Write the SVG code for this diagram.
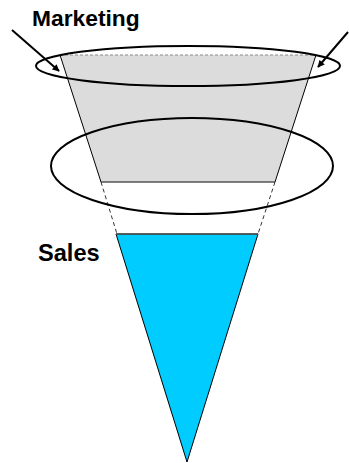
<svg xmlns="http://www.w3.org/2000/svg" width="349" height="463" viewBox="0 0 349 463">
<defs>
<marker id="ah" viewBox="0 0 10 10" refX="9" refY="5" markerWidth="9" markerHeight="7" markerUnits="userSpaceOnUse" orient="auto">
<path d="M0,0 L10,5 L0,10 z" fill="#000"/>
</marker>
<style>
.lbl{font-family:"Liberation Sans",Arial,sans-serif;font-weight:bold;fill:#000}
.ring{fill:none;stroke:#000;stroke-width:2}
.dash{stroke:#000;stroke-width:0.8;stroke-dasharray:4,3;fill:none}
.arrow{stroke:#000;stroke-width:2;fill:none}
</style>
</defs>
<rect width="349" height="463" fill="#fff"/>
<g id="marketing-funnel">
<polygon points="60,55 316,55 275,182 101,182" fill="#dcdcdc"/>
<line x1="60" y1="55" x2="101" y2="182" stroke="#000" stroke-width="1"/>
<line x1="316" y1="55" x2="275" y2="182" stroke="#000" stroke-width="1"/>
<line x1="60" y1="55" x2="316" y2="55" stroke="#888" stroke-width="1" stroke-dasharray="3,2"/>
<line x1="101" y1="182" x2="275" y2="182" stroke="#555" stroke-width="1.5"/>
</g>
<g id="sales-funnel">
<polygon points="116,234 258,234 187,462" fill="#00ccff" stroke="#000" stroke-width="1"/>
<line x1="116" y1="234" x2="258" y2="234" stroke="#555" stroke-width="1.5"/>
</g>
<g id="top-ring"><ellipse class="ring" cx="188" cy="66" rx="152" ry="20"/></g>
<g id="middle-ring"><ellipse class="ring" cx="192" cy="166" rx="141" ry="48"/></g>
<g id="connectors">
<line class="dash" x1="101" y1="182" x2="117" y2="234"/>
<line class="dash" x1="275" y1="182" x2="258" y2="234"/>
<line class="arrow" x1="12" y1="30" x2="59" y2="71" marker-end="url(#ah)"/>
<line class="arrow" x1="348" y1="32" x2="318" y2="67" marker-end="url(#ah)"/>
</g>
<g id="label-marketing"><text class="lbl" x="32" y="26" font-size="22.8">Marketing</text></g>
<g id="label-sales"><text class="lbl" x="38" y="261" font-size="23.6">Sales</text></g>
</svg>
